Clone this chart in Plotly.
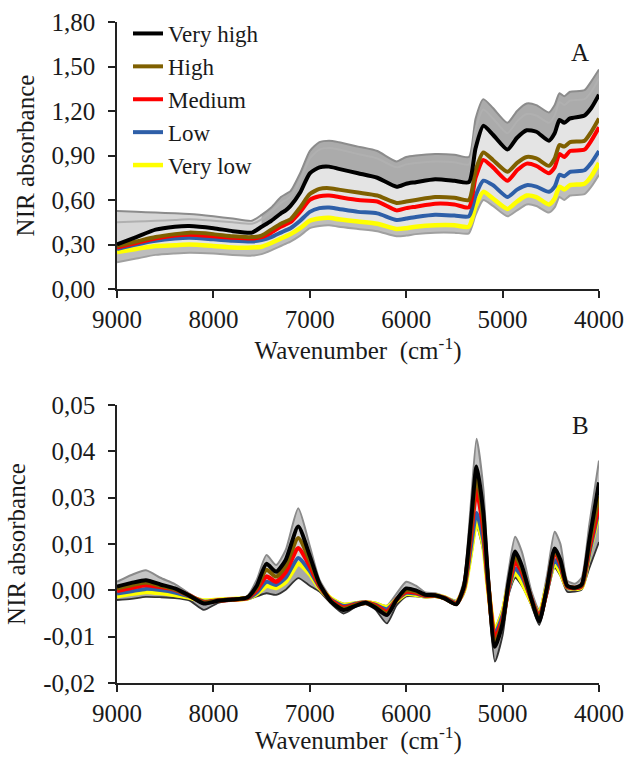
import plotly.graph_objects as go

# ---------------- Panel A data (raw NIR spectra) ----------------
wnA = [9000, 8800, 8600, 8400, 8250, 8000, 7800, 7600, 7500, 7400, 7300, 7250, 7200, 7100, 7000,
       6900, 6800, 6700, 6500, 6300, 6100, 6000, 5900, 5700, 5500, 5350, 5280, 5200, 5100, 4950,
       4850, 4750, 4650, 4520, 4460, 4410, 4360, 4300, 4150, 4080, 4000]
a_very_high = [0.30, 0.35, 0.40, 0.42, 0.425, 0.41, 0.39, 0.38, 0.42, 0.46, 0.51, 0.53, 0.56, 0.65, 0.78,
               0.82, 0.825, 0.81, 0.78, 0.75, 0.69, 0.71, 0.72, 0.74, 0.73, 0.72, 0.95, 1.10, 1.04, 0.94,
               1.02, 1.07, 1.06, 1.00, 1.05, 1.14, 1.12, 1.15, 1.17, 1.22, 1.31]
a_high = [0.29, 0.32, 0.35, 0.37, 0.38, 0.37, 0.355, 0.35, 0.36, 0.40, 0.44, 0.455, 0.47, 0.55, 0.64,
          0.675, 0.68, 0.67, 0.65, 0.63, 0.58, 0.59, 0.60, 0.62, 0.615, 0.60, 0.80, 0.92, 0.87, 0.79,
          0.85, 0.89, 0.88, 0.83, 0.88, 0.97, 0.96, 0.99, 1.00, 1.06, 1.15]
a_medium = [0.28, 0.31, 0.34, 0.36, 0.365, 0.355, 0.345, 0.34, 0.35, 0.38, 0.42, 0.435, 0.45, 0.52, 0.60,
            0.625, 0.63, 0.62, 0.60, 0.59, 0.53, 0.545, 0.555, 0.575, 0.57, 0.55, 0.75, 0.87, 0.82, 0.73,
            0.80, 0.845, 0.83, 0.78, 0.82, 0.91, 0.89, 0.93, 0.94, 1.00, 1.09]
a_low = [0.27, 0.30, 0.325, 0.34, 0.345, 0.335, 0.325, 0.32, 0.33, 0.35, 0.38, 0.395, 0.41, 0.46, 0.52,
         0.545, 0.55, 0.54, 0.52, 0.51, 0.465, 0.475, 0.485, 0.50, 0.495, 0.49, 0.63, 0.73, 0.70, 0.62,
         0.67, 0.70, 0.69, 0.655, 0.69, 0.77, 0.76, 0.79, 0.80, 0.85, 0.93]
a_very_low = [0.25, 0.27, 0.29, 0.295, 0.30, 0.29, 0.28, 0.28, 0.285, 0.31, 0.34, 0.355, 0.37, 0.41, 0.46,
              0.475, 0.48, 0.47, 0.455, 0.44, 0.405, 0.41, 0.42, 0.43, 0.43, 0.42, 0.56, 0.655, 0.61, 0.54,
              0.59, 0.63, 0.62, 0.57, 0.61, 0.69, 0.67, 0.70, 0.71, 0.76, 0.85]
a_upper = [0.525, 0.52, 0.515, 0.51, 0.505, 0.49, 0.475, 0.46, 0.50, 0.55, 0.62, 0.64, 0.66, 0.78, 0.93,
           0.99, 1.00, 0.99, 0.96, 0.93, 0.86, 0.89, 0.90, 0.91, 0.905, 0.89, 1.15, 1.28, 1.22, 1.12,
           1.20, 1.25, 1.24, 1.19, 1.24, 1.32, 1.30, 1.33, 1.34, 1.40, 1.48]
a_lower = [0.18, 0.205, 0.23, 0.24, 0.245, 0.24, 0.23, 0.225, 0.235, 0.26, 0.29, 0.305, 0.32, 0.36, 0.41,
           0.425, 0.43, 0.42, 0.405, 0.39, 0.355, 0.36, 0.37, 0.38, 0.38, 0.375, 0.50, 0.60, 0.56, 0.49,
           0.53, 0.57, 0.56, 0.515, 0.55, 0.62, 0.60, 0.63, 0.64, 0.69, 0.77]
# second gray spectrum visible in the upper-left group
a_gray_mid = [0.45, 0.455, 0.46, 0.465, 0.47, 0.46, 0.45, 0.44, 0.47, 0.52, 0.58, 0.60, 0.62, 0.73, 0.88,
              0.94, 0.95, 0.94, 0.91, 0.88, 0.82, 0.84, 0.85, 0.86, 0.855, 0.84, 1.08, 1.21, 1.15, 1.05,
              1.13, 1.18, 1.17, 1.12, 1.17, 1.26, 1.24, 1.27, 1.28, 1.33, 1.42]

# ---------------- Panel B data (pre-processed spectra) ----------------
wnB = [9000, 8850, 8700, 8550, 8400, 8250, 8100, 7950, 7800, 7650, 7550, 7450, 7350, 7250, 7120,
       7000, 6900, 6780, 6650, 6520, 6420, 6320, 6200, 6100, 6000, 5900, 5800, 5700, 5600, 5480,
       5400, 5330, 5270, 5200, 5150, 5080, 5000, 4940, 4870, 4800, 4700, 4620, 4540, 4460, 4400,
       4330, 4250, 4180, 4100, 4000]
b_very_high = [0.0043, 0.0052, 0.0059, 0.0048, 0.0038, 0.0020, 0.0000, 0.0007, 0.0010, 0.0015, 0.0045, 0.0100, 0.0080, 0.0110, 0.0194,
               0.0120, 0.0050, 0.0005, -0.0016, -0.0005, 0.0002, -0.0010, -0.0029, 0.0010, 0.0038, 0.0033, 0.0022, 0.0021, 0.0013, -0.0002,
               0.0045, 0.0200, 0.0345, 0.0230, 0.0060, -0.0109, -0.0050, 0.0050, 0.0131, 0.0095, 0.0010, -0.0045, 0.0040, 0.0139, 0.0110,
               0.0045, 0.0040, 0.0048, 0.0160, 0.0305]
b_high = [0.0038, 0.0046, 0.0053, 0.0045, 0.0036, 0.0020, 0.0002, 0.0008, 0.0010, 0.0015, 0.0040, 0.0085, 0.0068, 0.0095, 0.0165,
          0.0108, 0.0048, 0.0006, -0.0013, -0.0003, 0.0002, -0.0007, -0.0025, 0.0010, 0.0034, 0.0030, 0.0021, 0.0020, 0.0013, -0.0001,
          0.0042, 0.0185, 0.0320, 0.0210, 0.0055, -0.0098, -0.0045, 0.0045, 0.0118, 0.0088, 0.0010, -0.0040, 0.0038, 0.0135, 0.0105,
          0.0044, 0.0040, 0.0046, 0.0150, 0.0270]
b_medium = [0.0032, 0.0040, 0.0047, 0.0042, 0.0035, 0.0020, 0.0003, 0.0008, 0.0010, 0.0014, 0.0035, 0.0068, 0.0055, 0.0080, 0.0139,
            0.0095, 0.0045, 0.0008, -0.0010, -0.0002, 0.0002, -0.0005, -0.0021, 0.0010, 0.0030, 0.0028, 0.0020, 0.0020, 0.0014, 0.0000,
            0.0040, 0.0170, 0.0286, 0.0190, 0.0050, -0.0087, -0.0040, 0.0040, 0.0105, 0.0080, 0.0010, -0.0035, 0.0035, 0.0131, 0.0100,
            0.0043, 0.0039, 0.0045, 0.0140, 0.0248]
b_low = [0.0025, 0.0031, 0.0037, 0.0034, 0.0028, 0.0018, 0.0005, 0.0008, 0.0011, 0.0013, 0.0028, 0.0055, 0.0047, 0.0065, 0.0115,
         0.0082, 0.0042, 0.0010, -0.0006, 0.0000, 0.0003, -0.0003, -0.0014, 0.0009, 0.0027, 0.0025, 0.0019, 0.0020, 0.0015, 0.0002,
         0.0037, 0.0140, 0.0228, 0.0160, 0.0043, -0.0075, -0.0030, 0.0033, 0.0088, 0.0068, 0.0010, -0.0030, 0.0032, 0.0110, 0.0090,
         0.0042, 0.0038, 0.0043, 0.0128, 0.0238]
b_very_low = [0.0019, 0.0025, 0.0030, 0.0027, 0.0022, 0.0016, 0.0007, 0.0009, 0.0011, 0.0013, 0.0025, 0.0045, 0.0040, 0.0055, 0.0100,
              0.0075, 0.0040, 0.0012, -0.0004, 0.0000, 0.0003, -0.0001, -0.0010, 0.0008, 0.0025, 0.0023, 0.0019, 0.0020, 0.0015, 0.0003,
              0.0035, 0.0130, 0.0212, 0.0150, 0.0040, -0.0070, -0.0025, 0.0040, 0.0080, 0.0055, 0.0005, -0.0027, 0.0040, 0.0103, 0.0080,
              0.0042, 0.0038, 0.0042, 0.0130, 0.0231]
b_upper = [0.0055, 0.0072, 0.0084, 0.0065, 0.0049, 0.0025, 0.0005, 0.0010, 0.0013, 0.0018, 0.0060, 0.0122, 0.0097, 0.0135, 0.0240,
           0.0145, 0.0060, 0.0015, 0.0000, 0.0003, 0.0006, 0.0003, -0.0005, 0.0025, 0.0055, 0.0045, 0.0028, 0.0026, 0.0018, 0.0008,
           0.0060, 0.0250, 0.0415, 0.0290, 0.0090, -0.0060, -0.0010, 0.0080, 0.0168, 0.0130, 0.0030, -0.0015, 0.0070, 0.0181, 0.0150,
           0.0058, 0.0050, 0.0065, 0.0200, 0.0360]
b_lower = [0.0009, 0.0012, 0.0017, 0.0016, 0.0014, 0.0008, -0.0016, 0.0002, 0.0007, 0.0010, 0.0018, 0.0026, 0.0022, 0.0035, 0.0064,
           0.0045, 0.0030, 0.0000, -0.0025, -0.0008, -0.0002, -0.0015, -0.0050, -0.0005, 0.0018, 0.0018, 0.0015, 0.0016, 0.0010, -0.0004,
           0.0025, 0.0110, 0.0195, 0.0130, 0.0020, -0.0146, -0.0080, 0.0020, 0.0065, 0.0045, -0.0005, -0.0054, 0.0020, 0.0090, 0.0070,
           0.0030, 0.0030, 0.0035, 0.0090, 0.0155]

# ---------------- Labels ----------------
class_names = ["Very high", "High", "Medium", "Low", "Very low"]
class_colors = ["#000000", "#7f6000", "#ff0000", "#2e5fa8", "#ffff00"]
a_ticks = [0.0, 0.3, 0.6, 0.9, 1.2, 1.5, 1.8]
a_ticktext = ["0,00", "0,30", "0,60", "0,90", "1,20", "1,50", "1,80"]
b_ticks = [-0.02 + i * 0.07 / 6 for i in range(7)]
b_ticktext = ["-0,02", "-0,01", "0,00", "0,01", "0,03", "0,04", "0,05"]
x_ticks = [9000, 8000, 7000, 6000, 5000, 4000]
x_title = "Wavenumber  (cm<sup>-1</sup>)"
y_title = "NIR absorbance"

FONT = "'Times New Roman', 'Liberation Serif', 'DejaVu Serif', serif"
SP = dict(shape="spline", smoothing=0.6)
fig = go.Figure()


def band(xref, yref, wn, top, bottom, color):
    fig.add_trace(go.Scatter(x=wn, y=top, mode="lines", line=dict(width=0, **SP),
                             xaxis=xref, yaxis=yref, showlegend=False, hoverinfo="skip"))
    fig.add_trace(go.Scatter(x=wn, y=bottom, mode="lines", line=dict(width=0, **SP), fill="tonexty",
                             fillcolor=color, xaxis=xref, yaxis=yref, showlegend=False, hoverinfo="skip"))


def line(xref, yref, wn, y, color, width):
    fig.add_trace(go.Scatter(x=wn, y=y, mode="lines", line=dict(width=width, color=color, **SP),
                             xaxis=xref, yaxis=yref, showlegend=False, hoverinfo="skip"))


# Panel A gray sample band
band("x", "y", wnA, a_upper, a_very_high, "#d6d6d6")
band("x", "y", wnA[8:], a_upper[8:], a_very_high[8:], "#ababab")
band("x", "y", wnA, a_very_high, a_very_low, "#e4e4e4")
band("x", "y", wnA, a_very_low, a_lower, "#bdbdbd")
line("x", "y", wnA, a_upper, "#8c8c8c", 2)
line("x", "y", wnA, a_gray_mid, "#b0b0b0", 2)
line("x", "y", wnA, a_lower, "#a0a0a0", 2)

# Panel B gray sample band
band("x2", "y2", wnB, b_upper, b_very_high, "#c4c4c4")
band("x2", "y2", wnB, b_very_high, b_very_low, "#d4d4d4")
band("x2", "y2", wnB, b_very_low, b_lower, "#a8a8a8")
line("x2", "y2", wnB, b_upper, "#8a8a8a", 2)
line("x2", "y2", wnB, b_lower, "#333333", 1.8)

seriesA = [a_very_high, a_high, a_medium, a_low, a_very_low]
seriesB = [b_very_high, b_high, b_medium, b_low, b_very_low]
widthsA = [4, 4, 4, 4, 4.5]
widthsB = [4, 4, 4.5, 4, 5]
for i in [4, 3, 2, 1, 0]:
    fig.add_trace(go.Scatter(x=wnA, y=seriesA[i], mode="lines", name=class_names[i],
                             line=dict(width=widthsA[i], color=class_colors[i], **SP),
                             xaxis="x", yaxis="y", showlegend=True, legendrank=i + 1))
for i in [4, 3, 2, 1, 0]:
    fig.add_trace(go.Scatter(x=wnB, y=seriesB[i], mode="lines", name=class_names[i],
                             line=dict(width=widthsB[i], color=class_colors[i], **SP),
                             xaxis="x2", yaxis="y2", showlegend=False))

axis_common = dict(showline=True, linecolor="#222222", linewidth=1.5, ticks="outside", ticklen=7,
                   tickwidth=1.5, tickcolor="#222222", showgrid=False, zeroline=False, automargin=False,
                   tickfont=dict(family=FONT, size=25, color="#1a1a1a"), mirror=False)

W, H = 628, 761
xdom = [117 / W, 599 / W]
fig.update_layout(
    width=W, height=H, margin=dict(l=0, r=0, t=0, b=0),
    paper_bgcolor="white", plot_bgcolor="white",
    font=dict(family=FONT, color="#1a1a1a"),
    xaxis=dict(domain=xdom, anchor="y", range=[9000, 4000], tickvals=x_ticks,
               title=dict(text=x_title, font=dict(family=FONT, size=25), standoff=6), **axis_common),
    yaxis=dict(domain=[1 - 289 / H, 1 - 22 / H], anchor="x", range=[0, 1.8], tickvals=a_ticks, ticktext=a_ticktext,
               ticklabelstandoff=8,
               title=dict(text=y_title, font=dict(family=FONT, size=25), standoff=10), **axis_common),
    xaxis2=dict(domain=xdom, anchor="y2", range=[9000, 4000], tickvals=x_ticks, **axis_common),
    yaxis2=dict(domain=[1 - 683 / H, 1 - 405 / H], anchor="x2", range=[-0.02, 0.05], tickvals=b_ticks, ticktext=b_ticktext,
                ticklabelstandoff=8,
                title=dict(text=y_title, font=dict(family=FONT, size=25), standoff=10), **axis_common),
    legend=dict(x=128 / W, y=1 - 12 / H, xanchor="left", yanchor="top", bgcolor="rgba(0,0,0,0)",
                font=dict(family=FONT, size=23, color="#1a1a1a"), traceorder="normal"),
    annotations=[
        dict(text="A", x=591 / W, y=1 - 37 / H, xref="paper", yref="paper", showarrow=False,
             font=dict(family=FONT, size=25, color="#1a1a1a")),
        dict(text="B", x=591 / W, y=1 - 425 / H, xref="paper", yref="paper", showarrow=False,
             font=dict(family=FONT, size=25, color="#1a1a1a")),
        dict(text=x_title, x=358 / W, y=1 - 738 / H, xref="paper", yref="paper", showarrow=False,
             xanchor="center", yanchor="middle", font=dict(family=FONT, size=25, color="#1a1a1a")),
    ],
    showlegend=True,
)

fig.write_html("out.html")
